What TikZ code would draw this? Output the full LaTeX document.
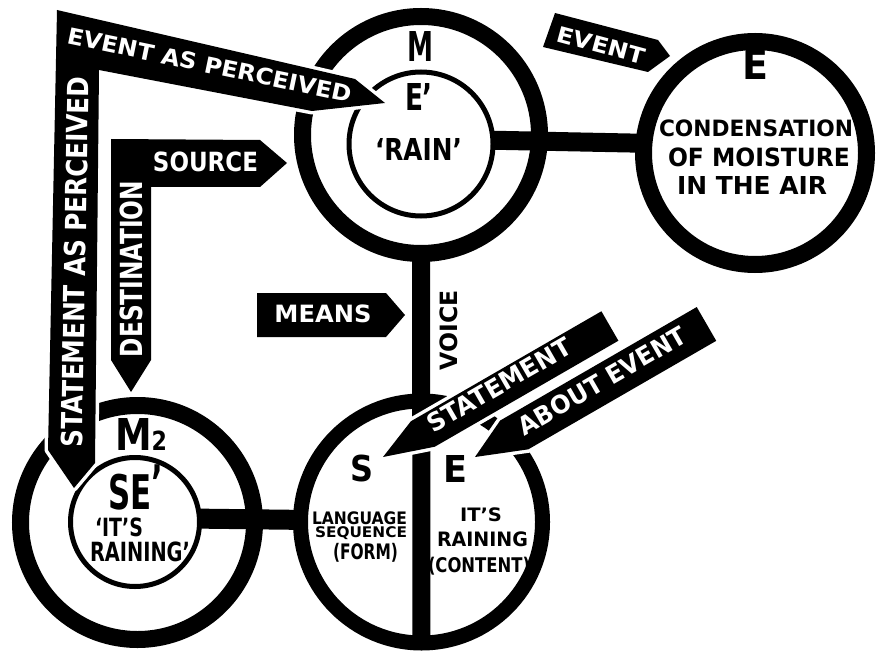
\documentclass[tikz,border=0pt]{standalone}
\usepackage{fontspec}
\setmainfont{DejaVu Sans}
\usepackage{graphicx}
\newcommand\fitt[3]{\resizebox*{#1pt}{#2pt}{#3}}
\begin{document}
\begin{tikzpicture}[x=1pt,y=-1pt,
  ring/.style={circle,draw,inner sep=0pt,outer sep=0pt},
  lbl/.style={inner sep=0pt,outer sep=0pt,font=\bfseries},
  wl/.style={lbl,text=white},
  signbox/.style={fill=black},
  signw/.style={fill=black,preaction={draw=white,line width=7pt,line join=round}},
  bar/.style={line cap=butt}]
\fill[white] (0,0) rectangle (877,652);
\useasboundingbox (0,0) rectangle (877,652);

% circles
\node[ring,line width=17pt,minimum size=237pt] (M) at (421,135) {};
\node[ring,line width=5pt,minimum size=144pt] (Ein) at (421,144) {};
\node[ring,line width=17pt,minimum size=223pt] (Eo) at (755,153) {};
\node[ring,line width=17pt,minimum size=234pt] (M2o) at (137.5,522.5) {};
\node[ring,line width=5pt,minimum size=129pt] (M2i) at (135,522) {};
\node[ring,line width=15pt,minimum size=242pt] (Sc) at (421.5,522) {};

% connectors
\draw[bar,line width=19pt] (Ein.3) -- (Eo.175);
\draw[bar,line width=20pt] (M2i.3) -- (Sc.179);
\draw[bar,line width=18pt] (M.south) -- (Sc.south);

% sign arrows
\path[signw] (57,10) -- (355,79) -- (385,103) -- (312,111) -- (99,70) -- (95,463) -- (74,488) -- (48,450) -- cycle;
\path[signbox] (111,139) -- (260,140) -- (287,163) -- (260,187) -- (151,187) -- (151,360) -- (131,392) -- (111,360) -- cycle;
\path[signbox] (257,293) -- (386,293) -- (405,315) -- (386,337) -- (257,337) -- cycle;
\path[signbox] (555,13) -- (658,40) -- (670,56) -- (648,72) -- (543,47) -- cycle;
\begin{scope}[shift={(383,457)},rotate=30]
\path[signw] (0,0) -- (42,-17) -- (262,-17) -- (262,17) -- (50,17) -- cycle;
\end{scope}
\begin{scope}[shift={(475,457)},rotate=30]
\path[signw] (0,0) -- (40,-19) -- (267,-19) -- (267,20) -- (50,20) -- cycle;
\end{scope}

% white labels
\node[wl,rotate=-11.7] (tEAP) at (210,65) {\fitt{290}{17}{EVENT AS PERCEIVED}};
\node[wl,rotate=89] (tSAP) at (75,262) {\fitt{371}{22}{STATEMENT AS PERCEIVED}};
\node[wl] (tSrc) at (205.5,162) {\fitt{105}{20}{SOURCE}};
\node[wl,rotate=90] (tDst) at (131,269) {\fitt{176}{23}{DESTINATION}};
\node[wl] (tMeans) at (323,314) {\fitt{97}{18}{MEANS}};
\node[wl,rotate=-15] (tEv) at (601,45) {\fitt{90}{16}{EVENT}};
\node[wl,rotate=30] (tSt) at (499,385) {\fitt{162}{19}{STATEMENT}};
\node[wl,rotate=30] (tAb) at (602,381) {\fitt{190}{19}{ABOUT EVENT}};

% black labels
\node[lbl] (tM) at (420,47) {\fitt{26}{30}{M}};
\node[lbl] (tEp) at (419,97) {\fitt{28}{27}{E’}};
\node[lbl] (tRain) at (418.5,149) {\fitt{87}{22}{‘RAIN’}};
\node[lbl] (tE) at (755,65) {\fitt{26}{30}{E}};
\node[lbl] (tC1) at (756,128.5) {\fitt{194}{17}{CONDENSATION}};
\node[lbl] (tC2) at (759,157.5) {\fitt{182}{19}{OF MOISTURE}};
\node[lbl] (tC3) at (752,186) {\fitt{150}{18}{IN THE AIR}};
\node[lbl] (tM2) at (141,434) {\fitt{52}{32}{M{\fontsize{6}{6}\selectfont 2}}};
\node[lbl] (tSE) at (135.5,487.5) {\fitt{55}{45}{SE\raisebox{.2em}{’}}};
\node[lbl] (tIts) at (119,527.5) {\fitt{48}{19}{‘IT’S}};
\node[lbl] (tRng) at (140,552) {\fitt{100}{20}{RAINING’}};
\node[lbl] (tS) at (361.5,468.5) {\fitt{23}{27}{S}};
\node[lbl] (tE2) at (455,468.5) {\fitt{24}{27}{E}};
\node[lbl] (tL1) at (359.5,518.5) {\fitt{95}{13}{LANGUAGE}};
\node[lbl] (tL2) at (361,533.5) {\fitt{92}{13}{SEQUENCE}};
\node[lbl] (tL3) at (365.5,552.5) {\fitt{65}{19}{(FORM)}};
\node[lbl] (tR1) at (481,515) {\fitt{42}{14}{IT’S}};
\node[lbl] (tR2) at (482.5,539.5) {\fitt{91}{15}{RAINING}};
\node[lbl] (tR3) at (479,566) {\fitt{102}{18}{(CONTENT)}};
\node[lbl,rotate=90] (tVoice) at (449,330) {\fitt{80}{18}{VOICE}};
\end{tikzpicture}
\end{document}
